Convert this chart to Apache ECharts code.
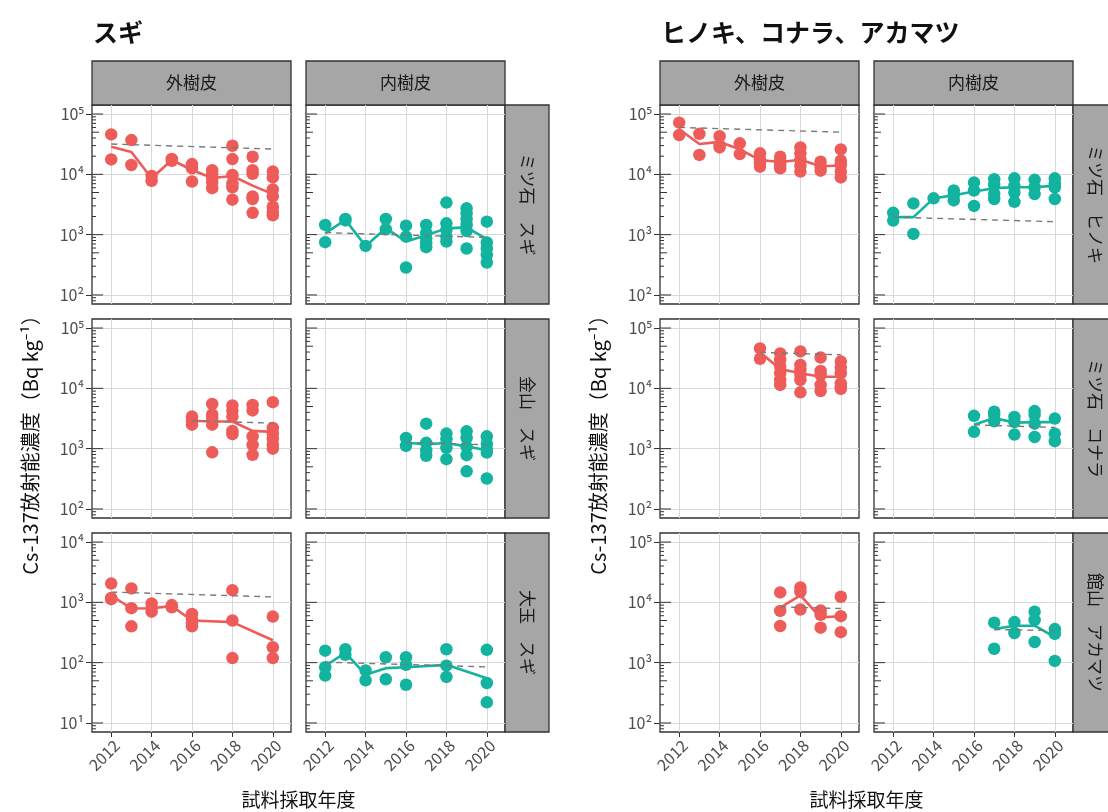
<!DOCTYPE html>
<html>
<head>
<meta charset="utf-8">
<script src="https://cdn.jsdelivr.net/npm/echarts@6/dist/echarts.min.js"></script>
<style>
  html, body { margin: 0; padding: 0; background: #fff; }
  #chart { width: 1108px; height: 812px; }
</style>
</head>
<body>
<div id="chart"></div>
<script>
// ---- labels ----
const groupTitles = ['スギ', 'ヒノキ、コナラ、アカマツ'];
const barkTypes = ['外樹皮', '内樹皮'];
const siteLabels = [
  ['ミツ石　スギ', '金山　スギ', '大玉　スギ'],
  ['ミツ石　ヒノキ', 'ミツ石　コナラ', '館山　アカマツ']
];
const xTitle = '試料採取年度';
const yTitle = 'Cs-137放射能濃度（Bq kg⁻¹）';
const yearTicks = [2012, 2014, 2016, 2018, 2020];
const decadeTicksHigh = [100, 1000, 10000, 100000];
const decadeTicksLow = [10, 100, 1000, 10000];
const logTickSteps = [1, 2, 3, 4, 5, 6, 7, 8, 9];
const logTickDecades = [1, 10, 100, 1000, 10000, 100000];

// ---- measured concentrations: [year, Bq/kg] ----
// ミツ石 スギ
const mitsuishiSugiOuter = [
  [2012, 46000], [2012, 17700], [2013, 37000], [2013, 14300], [2014, 9400], [2014, 7800],
  [2015, 18000], [2015, 16800], [2016, 14800], [2016, 12600], [2016, 7600],
  [2017, 11700], [2017, 10000], [2017, 8600], [2017, 7300], [2017, 5900],
  [2018, 29800], [2018, 17900], [2018, 9800], [2018, 7100], [2018, 6100], [2018, 3800],
  [2019, 19600], [2019, 11700], [2019, 10200], [2019, 4300], [2019, 3900], [2019, 2300],
  [2020, 11100], [2020, 8900], [2020, 5600], [2020, 4300], [2020, 2900], [2020, 2400], [2020, 2100]
];
const mitsuishiSugiOuterMean = [
  [2012, 28800], [2013, 23500], [2014, 8600], [2015, 17300], [2016, 11800],
  [2017, 8700], [2018, 9400], [2019, 6500], [2020, 4700]
];
const mitsuishiSugiOuterDecay = [[2012, 31800], [2020, 26300]];

const mitsuishiSugiInner = [
  [2012, 1450], [2012, 750], [2013, 1820], [2013, 1720], [2014, 650], [2015, 1820], [2015, 1230],
  [2016, 1410], [2016, 930], [2016, 285],
  [2017, 1450], [2017, 1080], [2017, 870], [2017, 720], [2017, 620],
  [2018, 3400], [2018, 1540], [2018, 1200], [2018, 930], [2018, 770],
  [2019, 2730], [2019, 2260], [2019, 1800], [2019, 1450], [2019, 1150], [2019, 590],
  [2020, 1640], [2020, 740], [2020, 590], [2020, 460], [2020, 345]
];
const mitsuishiSugiInnerMean = [
  [2012, 1050], [2013, 1760], [2014, 650], [2015, 1280], [2016, 770],
  [2017, 980], [2018, 1270], [2019, 1320], [2020, 840]
];
const mitsuishiSugiInnerDecay = [[2012, 1080], [2020, 900]];

// 金山 スギ
const kanayamaSugiOuter = [
  [2016, 3400], [2016, 2900], [2016, 2500],
  [2017, 5500], [2017, 3700], [2017, 3200], [2017, 2500], [2017, 870],
  [2018, 5200], [2018, 4200], [2018, 3400], [2018, 1970], [2018, 1740],
  [2019, 5300], [2019, 4300], [2019, 1600], [2019, 1150], [2019, 790],
  [2020, 5900], [2020, 2200], [2020, 1800], [2020, 1450], [2020, 1150], [2020, 1000]
];
const kanayamaSugiOuterMean = [[2016, 2900], [2017, 2820], [2018, 2820], [2019, 1970], [2020, 1900]];
const kanayamaSugiOuterDecay = [[2016, 2900], [2020, 2650]];

const kanayamaSugiInner = [
  [2016, 1500], [2016, 1110],
  [2017, 2600], [2017, 1250], [2017, 940], [2017, 760],
  [2018, 1780], [2018, 1430], [2018, 1030], [2018, 670],
  [2019, 1940], [2019, 1500], [2019, 1070], [2019, 780], [2019, 420],
  [2020, 1600], [2020, 1210], [2020, 1000], [2020, 860], [2020, 320]
];
const kanayamaSugiInnerMean = [[2016, 1250], [2017, 1180], [2018, 1240], [2019, 1090], [2020, 940]];
const kanayamaSugiInnerDecay = [[2016, 1270], [2020, 1160]];

// 大玉 スギ
const otamaSugiOuter = [
  [2012, 2050], [2012, 1180], [2012, 1130], [2013, 1700], [2013, 800], [2013, 400],
  [2014, 960], [2014, 800], [2014, 700], [2015, 900], [2015, 830],
  [2016, 640], [2016, 520], [2016, 450], [2016, 400],
  [2018, 1590], [2018, 500], [2018, 119], [2020, 580], [2020, 180], [2020, 119]
];
const otamaSugiOuterMean = [[2012, 1300], [2013, 790], [2014, 800], [2015, 865], [2016, 500], [2018, 470], [2020, 235]];
const otamaSugiOuterDecay = [[2012, 1480], [2020, 1230]];

const otamaSugiInner = [
  [2012, 158], [2012, 84], [2012, 61], [2013, 167], [2013, 135], [2014, 74], [2014, 51],
  [2015, 123], [2015, 53], [2016, 123], [2016, 92], [2016, 43],
  [2018, 167], [2018, 89], [2018, 58], [2020, 163], [2020, 46], [2020, 22]
];
const otamaSugiInnerMean = [[2012, 88], [2013, 147], [2014, 63], [2015, 81], [2016, 84], [2018, 92], [2020, 55]];
const otamaSugiInnerDecay = [[2012, 102], [2020, 85]];

// ミツ石 ヒノキ
const mitsuishiHinokiOuter = [
  [2012, 72000], [2012, 45000], [2013, 47000], [2013, 21000],
  [2014, 43000], [2014, 30600], [2014, 28000], [2015, 32700], [2015, 21700],
  [2016, 22300], [2016, 17700], [2016, 15600], [2016, 13400],
  [2017, 19600], [2017, 16900], [2017, 14300], [2017, 12600],
  [2018, 28000], [2018, 22300], [2018, 17300], [2018, 13700], [2018, 11100],
  [2019, 16200], [2019, 13400], [2019, 11500],
  [2020, 25900], [2020, 16900], [2020, 14300], [2020, 11100], [2020, 8900]
];
const mitsuishiHinokiOuterMean = [
  [2012, 56000], [2013, 31800], [2014, 34500], [2015, 26000], [2016, 17300],
  [2017, 16000], [2018, 17500], [2019, 13600], [2020, 14000]
];
const mitsuishiHinokiOuterDecay = [[2012, 60000], [2020, 50000]];

const mitsuishiHinokiInner = [
  [2012, 2300], [2012, 1710], [2013, 3300], [2013, 1030], [2014, 4000],
  [2015, 5400], [2015, 4500], [2015, 3700], [2016, 7300], [2016, 5400], [2016, 3000],
  [2017, 8300], [2017, 6700], [2017, 4800], [2017, 3900],
  [2018, 8600], [2018, 6400], [2018, 5000], [2018, 3500],
  [2019, 8100], [2019, 6100], [2019, 4700],
  [2020, 8600], [2020, 7100], [2020, 6100], [2020, 3900]
];
const mitsuishiHinokiInnerMean = [
  [2012, 1950], [2013, 1950], [2014, 4000], [2015, 4500], [2016, 5200],
  [2017, 5900], [2018, 6100], [2019, 6100], [2020, 6500]
];
const mitsuishiHinokiInnerDecay = [[2012, 1950], [2020, 1640]];

// ミツ石 コナラ
const mitsuishiKonaraOuter = [
  [2016, 46000], [2016, 31000],
  [2017, 38000], [2017, 29600], [2017, 23000], [2017, 17800], [2017, 13800], [2017, 11400],
  [2018, 41000], [2018, 24500], [2018, 20200], [2018, 16700], [2018, 13800], [2018, 8600],
  [2019, 32500], [2019, 19400], [2019, 16700], [2019, 11400], [2019, 9000],
  [2020, 27800], [2020, 22100], [2020, 17800], [2020, 12100], [2020, 10700], [2020, 9800]
];
const mitsuishiKonaraOuterMean = [[2016, 39500], [2017, 21000], [2018, 17800], [2019, 15600], [2020, 15600]];
const mitsuishiKonaraOuterDecay = [[2016, 39500], [2020, 36000]];

const mitsuishiKonaraInner = [
  [2016, 3500], [2016, 1900], [2017, 4100], [2017, 3600], [2017, 2850],
  [2018, 3350], [2018, 2770], [2018, 1710],
  [2019, 4200], [2019, 3600], [2019, 2600], [2019, 1560],
  [2020, 3150], [2020, 1770], [2020, 1330]
];
const mitsuishiKonaraInnerMean = [[2016, 2500], [2017, 3220], [2018, 2700], [2019, 2750], [2020, 2750]];
const mitsuishiKonaraInnerDecay = [[2016, 2480], [2020, 2250]];

// 館山 アカマツ
const tateyamaAkamatsuOuter = [
  [2017, 14600], [2017, 7200], [2017, 4050], [2018, 17600], [2018, 14900], [2018, 7600],
  [2019, 7300], [2019, 6200], [2019, 3800], [2020, 12400], [2020, 5900], [2020, 3200]
];
const tateyamaAkamatsuOuterMean = [[2017, 8200], [2018, 13000], [2019, 5600], [2020, 5900]];
const tateyamaAkamatsuOuterDecay = [[2017, 8400], [2020, 7900]];

const tateyamaAkamatsuInner = [
  [2017, 4600], [2017, 1700], [2018, 4700], [2018, 3100],
  [2019, 7000], [2019, 5100], [2019, 2200], [2020, 3600], [2020, 3000], [2020, 1070]
];
const tateyamaAkamatsuInnerMean = [[2017, 3600], [2018, 4100], [2019, 4100], [2020, 2650]];
const tateyamaAkamatsuInnerDecay = [[2017, 3550], [2020, 3400]];

// ---- panel arrangement (group, row, column) ----
const panels = [
  { g: 0, r: 0, c: 0, pts: mitsuishiSugiOuter, mean: mitsuishiSugiOuterMean, decay: mitsuishiSugiOuterDecay },
  { g: 0, r: 0, c: 1, pts: mitsuishiSugiInner, mean: mitsuishiSugiInnerMean, decay: mitsuishiSugiInnerDecay },
  { g: 0, r: 1, c: 0, pts: kanayamaSugiOuter, mean: kanayamaSugiOuterMean, decay: kanayamaSugiOuterDecay },
  { g: 0, r: 1, c: 1, pts: kanayamaSugiInner, mean: kanayamaSugiInnerMean, decay: kanayamaSugiInnerDecay },
  { g: 0, r: 2, c: 0, pts: otamaSugiOuter, mean: otamaSugiOuterMean, decay: otamaSugiOuterDecay },
  { g: 0, r: 2, c: 1, pts: otamaSugiInner, mean: otamaSugiInnerMean, decay: otamaSugiInnerDecay },
  { g: 1, r: 0, c: 0, pts: mitsuishiHinokiOuter, mean: mitsuishiHinokiOuterMean, decay: mitsuishiHinokiOuterDecay },
  { g: 1, r: 0, c: 1, pts: mitsuishiHinokiInner, mean: mitsuishiHinokiInnerMean, decay: mitsuishiHinokiInnerDecay },
  { g: 1, r: 1, c: 0, pts: mitsuishiKonaraOuter, mean: mitsuishiKonaraOuterMean, decay: mitsuishiKonaraOuterDecay },
  { g: 1, r: 1, c: 1, pts: mitsuishiKonaraInner, mean: mitsuishiKonaraInnerMean, decay: mitsuishiKonaraInnerDecay },
  { g: 1, r: 2, c: 0, pts: tateyamaAkamatsuOuter, mean: tateyamaAkamatsuOuterMean, decay: tateyamaAkamatsuOuterDecay },
  { g: 1, r: 2, c: 1, pts: tateyamaAkamatsuInner, mean: tateyamaAkamatsuInnerMean, decay: tateyamaAkamatsuInnerDecay }
];

// ---- layout & style ----
const FONT = '"Noto Sans CJK JP", "Noto Sans", sans-serif';
const COLORS = ['#EE5C5A', '#12B39F'];
const GRID_LINE = '#d9d9d9';
const BORDER = '#333333';
const groupLeft = [92, 660];
const colStep = 214;
const panelW = 199, panelH = 199;
const rowTop = [105, 319, 533];
const stripH = 44, stripW = 44;
const xRange = [2011.05, 2020.9];
const yRangeHigh = [Math.pow(10, 1.85), Math.pow(10, 5.15)];
const yRangeLow = [Math.pow(10, 0.85), Math.pow(10, 4.15)];
const SUP = { '1': '¹', '2': '²', '3': '³', '4': '⁴', '5': '⁵' };

function yRangeOf(p) { return (p.g === 0 && p.r === 2) ? yRangeLow : yRangeHigh; }
function decadesOf(p) { return (p.g === 0 && p.r === 2) ? decadeTicksLow : decadeTicksHigh; }

const grids = [], xAxes = [], yAxes = [], series = [];

panels.forEach((p, i) => {
  const left = groupLeft[p.g] + p.c * colStep;
  const top = rowTop[p.r];
  const yr = yRangeOf(p);
  const color = COLORS[p.c];

  grids.push({
    left: left, top: top, width: panelW, height: panelH,
    show: true, backgroundColor: '#fff', borderColor: BORDER, borderWidth: 1.3
  });

  xAxes.push({
    gridIndex: i, type: 'value', min: xRange[0], max: xRange[1],
    axisLine: { show: false },
    axisTick: { show: p.r === 2, customValues: yearTicks, length: 5, lineStyle: { color: BORDER, width: 1 } },
    axisLabel: {
      show: p.r === 2, customValues: yearTicks, rotate: 45, margin: 5,
      align: 'right', verticalAlign: 'top',
      fontSize: 16, color: '#4d4d4d', fontFamily: FONT,
      formatter: v => String(Math.round(v))
    },
    splitLine: { show: true, lineStyle: { color: GRID_LINE, width: 1 } }
  });

  yAxes.push({
    gridIndex: i, type: 'log', logBase: 10, min: yr[0], max: yr[1],
    axisLine: { show: false },
    axisTick: { show: p.c === 0, customValues: decadesOf(p), length: 6, lineStyle: { color: BORDER, width: 1 } },
    axisLabel: {
      show: p.c === 0, customValues: decadesOf(p), margin: 8,
      fontSize: 16, color: '#4d4d4d', fontFamily: FONT,
      formatter: v => '10' + SUP[String(Math.round(Math.log10(v)))]
    },
    splitLine: { show: true, lineStyle: { color: GRID_LINE, width: 1 } },
    minorTick: { show: false }
  });

  // log-scale tick marks along the left edge of each panel
  const logTicks = [];
  logTickDecades.forEach(d => logTickSteps.forEach(k => {
    const v = d * k;
    if (v >= yr[0] && v <= yr[1]) logTicks.push([xRange[0], v, k]);
  }));

  series.push({
    type: 'scatter', xAxisIndex: i, yAxisIndex: i, data: p.pts,
    symbol: 'circle', symbolSize: 12.5, itemStyle: { color: color, opacity: 1 }, z: 2
  });
  series.push({
    type: 'line', xAxisIndex: i, yAxisIndex: i, data: p.mean,
    showSymbol: false, lineStyle: { color: color, width: 2.6 }, z: 3
  });
  series.push({
    type: 'line', xAxisIndex: i, yAxisIndex: i, data: p.decay,
    showSymbol: false, lineStyle: { color: '#7a7a7a', width: 1.4, type: [6, 5] }, z: 4
  });
  series.push({
    type: 'custom', xAxisIndex: i, yAxisIndex: i, data: logTicks,
    encode: { x: 0, y: 1 }, z: 5,
    renderItem: (params, api) => {
      const pt = api.coord([api.value(0), api.value(1)]);
      const k = api.value(2);
      const len = k === 1 ? 11 : (k === 5 ? 7 : 4);
      return {
        type: 'line',
        shape: { x1: pt[0], y1: pt[1], x2: pt[0] + len, y2: pt[1] },
        style: { stroke: BORDER, lineWidth: 1 }
      };
    }
  });
});

// ---- titles, strips and axis titles ----
const graphics = [];
[0, 1].forEach(g => {
  const gx = groupLeft[g];
  graphics.push({
    type: 'text', x: gx + 1, y: 32,
    style: { text: groupTitles[g], font: 'bold 25px ' + FONT, fill: '#111', textAlign: 'left', textVerticalAlign: 'middle' }
  });
  [0, 1].forEach(c => {
    const sx = gx + c * colStep;
    graphics.push({
      type: 'rect', shape: { x: sx, y: rowTop[0] - stripH, width: panelW, height: stripH },
      style: { fill: '#a6a6a6', stroke: BORDER, lineWidth: 1.3 }
    });
    graphics.push({
      type: 'text', x: sx + panelW / 2, y: rowTop[0] - stripH / 2,
      style: { text: barkTypes[c], font: '17px ' + FONT, fill: '#1a1a1a', textAlign: 'center', textVerticalAlign: 'middle' }
    });
  });
  const rx = gx + colStep + panelW;
  [0, 1, 2].forEach(r => {
    graphics.push({
      type: 'rect', shape: { x: rx, y: rowTop[r], width: stripW, height: panelH },
      style: { fill: '#a6a6a6', stroke: BORDER, lineWidth: 1.3 }
    });
    graphics.push({
      type: 'text', x: rx + stripW / 2, y: rowTop[r] + panelH / 2, rotation: -Math.PI / 2,
      style: { text: siteLabels[g][r], font: '17px ' + FONT, fill: '#1a1a1a', textAlign: 'center', textVerticalAlign: 'middle' }
    });
  });
  graphics.push({
    type: 'text', x: gx - 62, y: 440, rotation: Math.PI / 2,
    style: { text: yTitle, font: '20px ' + FONT, fill: '#111', textAlign: 'center', textVerticalAlign: 'middle' }
  });
  graphics.push({
    type: 'text', x: gx + (colStep + panelW) / 2, y: 800,
    style: { text: xTitle, font: '19px ' + FONT, fill: '#111', textAlign: 'center', textVerticalAlign: 'middle' }
  });
});

const chart = echarts.init(document.getElementById('chart'), null, { renderer: 'canvas' });
chart.setOption({
  backgroundColor: '#fff',
  animation: false,
  grid: grids,
  xAxis: xAxes,
  yAxis: yAxes,
  series: series,
  graphic: graphics
});
</script>
</body>
</html>
